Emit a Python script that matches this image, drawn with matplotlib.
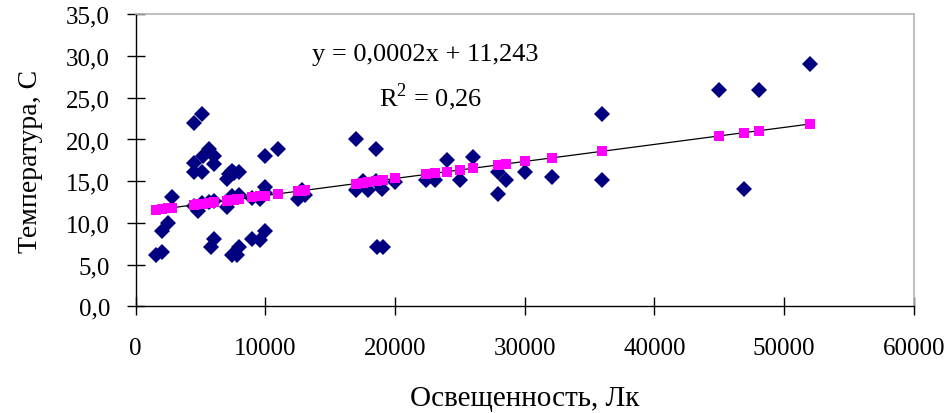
import numpy as np
import matplotlib
matplotlib.use("Agg")
import matplotlib.pyplot as plt
from matplotlib.ticker import FuncFormatter, MultipleLocator

# Data
# illumination, lx
lux = [1565, 2000, 2000, 2500, 2800,
       4520, 4520, 4520, 4520, 4780, 5090, 5090, 5090, 5160, 5650, 5650,
       5800, 6060, 6060, 6060, 6060,
       7010, 7010, 7200, 7400, 7400, 7400, 7560, 7790, 7990, 7990, 7990,
       8940, 8940, 9580, 9580, 9970, 9970, 9970, 9970,
       10950, 12540, 12800, 13050,
       16990, 16990, 17500, 17930, 18530, 18530, 18580, 18960, 19090, 19990,
       22380, 23080, 24030, 25000, 25980, 27960, 27960, 28550, 30040, 32070,
       35950, 35950, 44970, 46920, 48060, 51990]
# temperature, C
temp = [6.1, 6.5, 9.0, 10.0, 13.1,
        22.0, 17.2, 16.1, 12.0, 11.4, 23.0, 16.1, 12.4, 18.0, 18.9, 12.5,
        7.1, 18.0, 17.0, 8.1, 12.6,
        15.3, 11.9, 15.8, 6.1, 16.2, 13.2, 16.0, 6.1, 16.1, 7.1, 13.4,
        8.1, 13.0, 8.0, 12.9, 9.0, 18.0, 14.3, 13.6,
        18.9, 12.9, 14.0, 13.3,
        20.0, 14.0, 15.0, 14.0, 18.9, 15.0, 7.1, 14.1, 7.1, 14.9,
        15.1, 15.1, 17.5, 15.1, 17.9, 16.1, 13.5, 15.1, 16.1, 15.5,
        23.0, 15.1, 25.9, 14.1, 25.9, 29.0]

# linear trend shown on the chart
trend_slope = 0.000204
trend_intercept = 11.243
eq_text = "y = 0,0002x + 11,243"
r2_text = "R$^2$ = 0,26"

x = np.array(lux)
y = np.array(temp)
y_fit = trend_intercept + trend_slope * x

plt.rcParams['font.family'] = ['Liberation Serif', 'DejaVu Serif']
plt.rcParams['mathtext.fontset'] = 'custom'
plt.rcParams['mathtext.rm'] = 'Liberation Serif'

fig = plt.figure(figsize=(9.47, 4.14), dpi=100)
ax = fig.add_axes([0.1433, 0.2577, 0.8215, 0.7053])

ax.plot(x, y, linestyle='none', marker='D', ms=7.8, color='#000080',
        markeredgewidth=0, zorder=3)
ax.plot([x.min(), x.max()], [y_fit.min(), y_fit.max()], color='black',
        lw=0.9, zorder=4)
ax.plot(x, y_fit, linestyle='none', marker='s', ms=6.5, color='#ff00ff',
        markeredgewidth=0, zorder=5)

ax.text(22300, 30.2, eq_text, ha='center', va='center', fontsize=19)
ax.text(22750, 25.2, r2_text, ha='center', va='center', fontsize=19)

ax.set_xlim(0, 60000)
ax.set_ylim(0, 35)
ax.xaxis.set_major_locator(MultipleLocator(10000))
ax.yaxis.set_major_locator(MultipleLocator(5))
ax.yaxis.set_major_formatter(FuncFormatter(lambda v, p: f"{v:.1f}".replace('.', ',')))
ax.xaxis.set_major_formatter(FuncFormatter(lambda v, p: f"{v:.0f}"))

ax.tick_params(axis='both', direction='inout', length=13, width=1,
               labelsize=18, top=False, right=False)
ax.tick_params(axis='x', pad=15.5)
ax.tick_params(axis='y', pad=12)

for s in ['left', 'bottom']:
    ax.spines[s].set_color('black')
    ax.spines[s].set_linewidth(1)
for s in ['top', 'right']:
    ax.spines[s].set_color('#b4b4b4')
    ax.spines[s].set_linewidth(1.2)

ax.set_xlabel('Освещенность, Лк', fontsize=21, labelpad=19)
ax.set_ylabel('Температура, С', fontsize=20, labelpad=17)

fig.savefig('out.png', dpi=100)
